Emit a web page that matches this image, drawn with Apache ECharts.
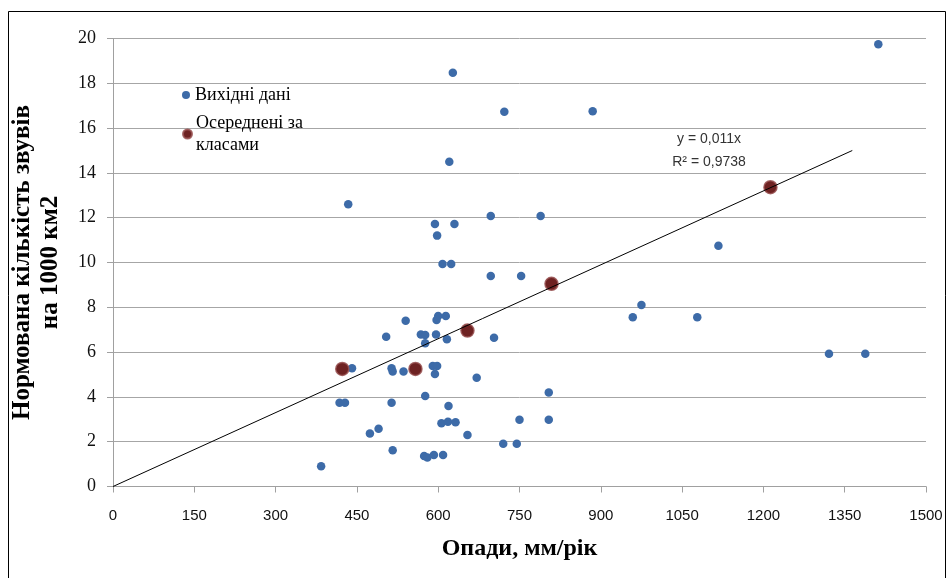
<!DOCTYPE html>
<html>
<head>
<meta charset="utf-8">
<script src="https://cdn.jsdelivr.net/npm/echarts@6/dist/echarts.min.js"></script>
<style>
html,body{margin:0;padding:0;background:#fff;}
#chart{width:949px;height:578px;}
</style>
</head>
<body>
<div id="chart"></div>
<script>
// Raw observations (precipitation mm/year, normalized count)
const rawX = [620.5, 434, 697, 789, 594, 630, 598, 608, 624, 697, 753, 540, 600, 614, 597, 504, 568, 576, 596, 576, 616, 703,
  441, 514, 516, 536, 590, 598, 594, 671, 804, 576, 514, 619, 606, 618, 632, 750, 804, 654, 720, 745, 474, 490, 516,
  574, 580, 592, 609, 418, 428, 384, 627, 722, 885, 1412, 1117, 975, 959, 1078, 1321, 1388];
const rawY = [14.50, 12.6, 12.08, 12.08, 11.72, 11.72, 11.20, 9.93, 9.93, 9.40, 9.40, 7.40, 7.61, 7.61, 7.43, 6.69, 6.79, 6.76, 6.79, 6.39, 6.57, 6.64,
  5.28, 5.28, 5.13, 5.13, 5.38, 5.38, 5.02, 4.86, 4.20, 4.04, 3.74, 3.59, 2.82, 2.89, 2.87, 2.98, 2.98, 2.30, 1.91, 1.91, 2.37, 2.58, 1.62,
  1.36, 1.30, 1.41, 1.41, 3.74, 3.74, 0.90, 18.47, 16.73, 16.75, 19.74, 10.75, 8.10, 7.56, 7.56, 5.93, 5.93];
// Class averages
const avgX = [423, 558, 654, 809, 1213];
const avgY = [5.25, 5.25, 6.96, 9.05, 13.36];
// Trend line y = 0.011x
const trendX = [0, 1364];
const trendY = [0, 15.0];
const xTicks = {min: 0, max: 1500, interval: 150};
const yTicks = {min: 0, max: 20, interval: 2};
const seriesNames = ['Вихідні дані', 'Осереднені за класами'];
const trendText = ['y = 0,011x', 'R² = 0,9738'];

const zip = (a, b) => a.map((v, i) => [v, b[i]]);
const chart = echarts.init(document.getElementById('chart'), null, {renderer: 'canvas'});
const serif = '"Liberation Serif", "Times New Roman", serif';
const sans = '"Liberation Sans", Arial, sans-serif';

chart.setOption({
  animation: false,
  backgroundColor: '#fff',
  grid: {left: 113, right: 23, top: 38.5, bottom: 91.5, containLabel: false},
  xAxis: {
    type: 'value', min: xTicks.min, max: xTicks.max, interval: xTicks.interval,
    name: 'Опади, мм/рік', nameLocation: 'middle', nameGap: 50,
    nameTextStyle: {fontFamily: serif, fontWeight: 'bold', fontSize: 24, color: '#000'},
    axisLine: {show: true, lineStyle: {color: '#a0a0a0', width: 1}},
    axisTick: {show: true, length: 6, lineStyle: {color: '#a0a0a0'}},
    axisLabel: {fontFamily: sans, fontSize: 15, color: '#111', margin: 22, formatter: v => String(v)},
    splitLine: {show: false}
  },
  yAxis: {
    type: 'value', min: yTicks.min, max: yTicks.max, interval: yTicks.interval,
    name: 'Нормована кількість звувів\nна 1000 км2', nameLocation: 'middle', nameGap: 48, nameRotate: 90,
    nameTextStyle: {fontFamily: serif, fontWeight: 'bold', fontSize: 25, lineHeight: 28, color: '#000', align: 'center'},
    axisLine: {show: true, lineStyle: {color: '#a0a0a0', width: 1}},
    axisTick: {show: true, length: 6, lineStyle: {color: '#a0a0a0'}},
    axisLabel: {fontFamily: serif, fontSize: 18, color: '#111', margin: 17},
    splitLine: {show: true, lineStyle: {color: '#a6a6a6', width: 1}}
  },
  legend: [
    {
      data: [seriesNames[0]], left: 182, top: 86, padding: 0, orient: 'vertical',
      itemWidth: 8, itemHeight: 8, itemGap: 6, icon: 'circle',
      textStyle: {fontFamily: serif, fontSize: 18, lineHeight: 18, color: '#000'}
    },
    {
      data: [seriesNames[1]], left: 182, top: 101, padding: 0, orient: 'vertical',
      itemWidth: 9, itemHeight: 9, icon: 'circle',
      formatter: () => 'Осереднені за\nкласами',
      textStyle: {fontFamily: serif, fontSize: 18, lineHeight: 22, color: '#000', padding: [22, 0, 0, -1]}
    }
  ],
  series: [
    {
      name: seriesNames[0], type: 'scatter', data: zip(rawX, rawY), symbolSize: 8.5,
      itemStyle: {color: '#3d6ba8', opacity: 1}, z: 2
    },
    {
      name: seriesNames[1], type: 'scatter', data: zip(avgX, avgY), symbolSize: 13,
      itemStyle: {color: '#6e2222', borderColor: 'rgba(150,80,80,0.85)', borderWidth: 1.5, opacity: 1}, z: 3
    },
    {
      name: 'trend', type: 'line', data: zip(trendX, trendY), showSymbol: false, symbol: 'none', silent: true,
      lineStyle: {color: '#000', width: 1}, z: 5
    }
  ],
  graphic: [
    {type: 'rect', shape: {x: 8.5, y: 11.5, width: 937, height: 600}, style: {fill: 'none', stroke: '#000', lineWidth: 1}, silent: true},
    {type: 'text', position: [709, 139], style: {text: trendText[0], font: '14px ' + sans, fill: '#333', textAlign: 'center', textVerticalAlign: 'middle'}},
    {type: 'text', position: [709, 162], style: {text: trendText[1], font: '14px ' + sans, fill: '#333', textAlign: 'center', textVerticalAlign: 'middle'}}
  ]
});
</script>
</body>
</html>
